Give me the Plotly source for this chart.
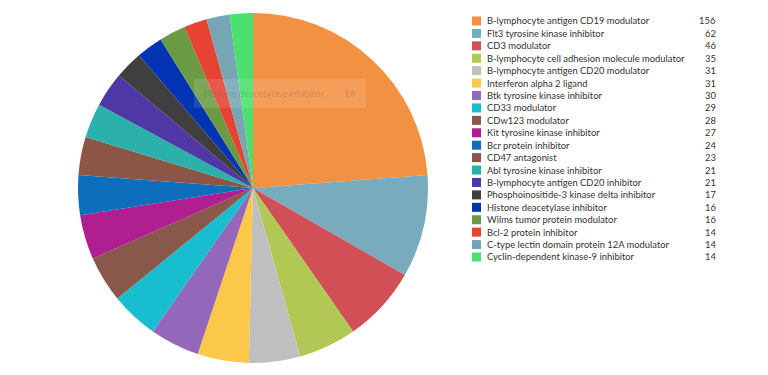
import plotly.graph_objects as go

labels = [
    "B-lymphocyte antigen CD19 modulator",
    "Flt3 tyrosine kinase inhibitor",
    "CD3 modulator",
    "B-lymphocyte cell adhesion molecule modulator",
    "B-lymphocyte antigen CD20 modulator",
    "Interferon alpha 2 ligand",
    "Btk tyrosine kinase inhibitor",
    "CD33 modulator",
    "CDw123 modulator",
    "Kit tyrosine kinase inhibitor",
    "Bcr protein inhibitor",
    "CD47 antagonist",
    "Abl tyrosine kinase inhibitor",
    "B-lymphocyte antigen CD20 inhibitor",
    "Phosphoinositide-3 kinase delta inhibitor",
    "Histone deacetylase inhibitor",
    "Wilms tumor protein modulator",
    "Bcl-2 protein inhibitor",
    "C-type lectin domain protein 12A modulator",
    "Cyclin-dependent kinase-9 inhibitor",
]
values = [156, 62, 46, 35, 31, 31, 30, 29, 28, 27, 24, 23, 21, 21, 17, 16, 16, 14, 14, 14]
colors = [
    "#f39142", "#78abbd", "#d05055", "#b2c855", "#bfbfbf", "#fcc84a",
    "#9467bb", "#18bed0", "#8a574b", "#b01f8f", "#0c6ebd", "#8b5646",
    "#2bb0ab", "#4f37a6", "#3f3f3f", "#0034b3", "#6a9a42", "#e64333",
    "#76a6b3", "#4be06e",
]

# page body has an 8px margin; work in reference pixel coords and convert
OFF = 8
W, H = 760, 367


def px(x):
    return (x - OFF) / W


def py(y):
    return 1 - (y - OFF) / H


fig = go.Figure()
fig.add_trace(go.Pie(
    labels=labels, values=values, sort=False, direction="clockwise",
    rotation=0, textinfo="none", hoverinfo="skip",
    marker=dict(colors=colors, line=dict(width=0)),
    domain=dict(x=[px(78), px(428)], y=[py(363), py(13)]),
    showlegend=False,
))

font = "Lato, 'Open Sans', sans-serif"
fs = 9.4
row0, step = 21, 12.42
for i, (lab, val, col) in enumerate(zip(labels, values, colors)):
    yc = row0 + i * step
    fig.add_shape(type="rect", xref="paper", yref="paper",
                  x0=px(472), x1=px(481), y0=py(yc + 4.5), y1=py(yc - 4.5),
                  fillcolor=col, line=dict(width=0))
    fig.add_annotation(x=px(485), y=py(yc), xref="paper", yref="paper",
                       text=lab, showarrow=False, xanchor="left", yanchor="middle",
                       font=dict(family=font, size=fs, color="#333"))
    fig.add_annotation(x=px(718), y=py(yc), xref="paper", yref="paper",
                       text=str(val), showarrow=False, xanchor="right", yanchor="middle",
                       font=dict(family=font, size=fs, color="#333"))

# faded tooltip overlay
fig.add_shape(type="rect", xref="paper", yref="paper",
              x0=px(194), x1=px(366), y0=py(108), y1=py(79),
              fillcolor="rgba(255,255,255,0.12)", line=dict(width=0))
fig.add_annotation(x=px(202), y=py(93.5), xref="paper", yref="paper",
                   text=labels[15], showarrow=False, xanchor="left", yanchor="middle",
                   font=dict(family=font, size=fs, color="rgba(60,60,60,0.22)"))
fig.add_annotation(x=px(357), y=py(93.5), xref="paper", yref="paper",
                   text=str(values[15]), showarrow=False, xanchor="right", yanchor="middle",
                   font=dict(family=font, size=fs, color="rgba(60,60,60,0.22)"))

fig.update_layout(width=W, height=H, margin=dict(l=0, r=0, t=0, b=0),
                  paper_bgcolor="white", plot_bgcolor="white", showlegend=False)
fig.write_html("out.html")
